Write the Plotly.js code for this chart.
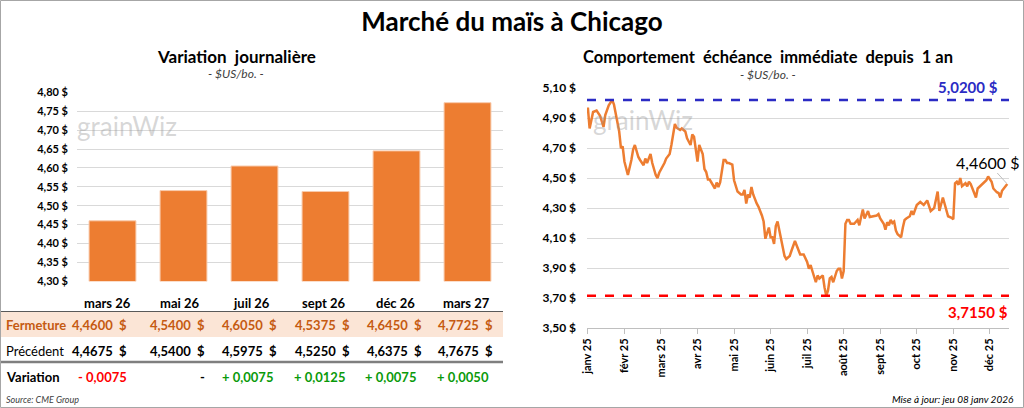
<!DOCTYPE html>
<html><head><meta charset="utf-8">
<script src="https://cdn.plot.ly/plotly-3.0.1.min.js"></script>
<style>html,body{margin:0;padding:0;background:#fff}#chart{width:1024px;height:408px}</style>
</head><body><div id="chart"></div>
<script>
// ---------- DATA ----------
const contracts = ['mars 26','mai 26','juil 26','sept 26','déc 26','mars 27'];
const closePrices = [4.4600, 4.5400, 4.6050, 4.5375, 4.6450, 4.7725];
const prevPrices  = [4.4675, 4.5400, 4.5975, 4.5250, 4.6375, 4.7675];

const monthLabels = ['janv 25','févr 25','mars 25','avr 25','mai 25','juin 25','juil 25','août 25','sept 25','oct 25','nov 25','déc 25'];
const monthStartSession = [0,21,42,63,84,105,126,147,168,189,210,231];

const sessions = [0,1,3,5,7,9,10,12,14,15,16,18,19,20,21,23,25,26,27,29,30,32,33,34,36,37,39,40,41,43,44,45,47,48,49,50,51,53,54,56,57,59,60,61,
63,64,66,67,68,69,70,71,73,74,75,76,77,78,79,80,81,83,84,85,86,88,89,90,91,92,93,94,95,97,98,100,101,102,104,105,106,107,108,109,110,111,112,113,114,116,117,118,119,120,121,122,
124,126,127,128,129,131,132,133,134,135,136,137,138,139,140,141,143,144,145,146,147,148,149,150,151,153,155,156,157,158,159,160,161,162,164,166,167,168,170,171,172,173,174,175,176,177,178,180,181,182,183,
185,186,187,189,191,193,195,197,199,201,202,204,206,207,209,210,211,212,213,214,215,217,218,219,220,222,223,224,226,227,229,230,232,233,235,236,237,238,240,241];
const nearbyPrices = [4.97,4.83,4.94,4.95,4.915,4.84,4.92,4.985,5.02,4.99,4.93,4.81,4.70,4.71,4.61,4.52,4.62,4.69,4.72,4.64,4.62,4.585,4.63,4.60,4.66,4.60,4.52,4.50,4.535,4.575,4.60,4.63,4.66,4.72,4.80,4.86,4.835,4.82,4.83,4.81,4.765,4.72,4.79,4.775,
4.61,4.72,4.66,4.56,4.54,4.49,4.49,4.47,4.43,4.47,4.44,4.47,4.54,4.62,4.62,4.60,4.60,4.59,4.485,4.44,4.41,4.39,4.39,4.42,4.33,4.39,4.37,4.44,4.39,4.33,4.31,4.25,4.21,4.095,4.17,4.105,4.105,4.06,4.18,4.21,4.15,4.08,4.015,3.98,3.96,3.98,4.015,4.05,4.08,4.05,4.02,3.99,
3.99,3.94,3.895,3.92,3.88,3.805,3.85,3.83,3.84,3.85,3.77,3.715,3.75,3.83,3.84,3.805,3.88,3.895,3.895,3.83,3.88,4.195,4.22,4.22,4.195,4.195,4.22,4.185,4.24,4.29,4.23,4.26,4.28,4.24,4.245,4.25,4.26,4.23,4.195,4.155,4.205,4.185,4.22,4.20,4.21,4.15,4.125,4.105,4.17,4.22,4.23,
4.245,4.28,4.255,4.32,4.34,4.32,4.35,4.28,4.30,4.41,4.28,4.37,4.28,4.245,4.235,4.225,4.465,4.475,4.455,4.50,4.445,4.465,4.445,4.475,4.46,4.405,4.37,4.43,4.45,4.465,4.485,4.51,4.475,4.43,4.405,4.40,4.37,4.415,4.45,4.46];

const high52 = 5.0200;
const low52 = 3.7150;

// ---------- HELPERS ----------
const W = 1024, H = 408;
const px = x => x / W;
const py = y => 1 - y / H;
const FONT = 'Lato, "Open Sans", sans-serif';
const NB = '\u00a0';
const fmt4 = v => v.toFixed(4).replace('.', ',');

const ORANGE = '#ed7d31';
const BROWN = '#c55a11';

// ---------- TRACES ----------
const traces = [
  {
    type: 'bar', x: contracts, y: closePrices, xaxis: 'x', yaxis: 'y',
    marker: {color: ORANGE, line: {color: '#f8cbad', width: 1}},
    hoverinfo: 'x+y', showlegend: false
  },
  {
    type: 'scatter', mode: 'lines', x: sessions, y: nearbyPrices, xaxis: 'x2', yaxis: 'y2',
    line: {color: ORANGE, width: 2.5}, showlegend: false
  }
];

// ---------- ANNOTATIONS ----------
const ann = [];
function txt(text, x, y, opts) {
  ann.push(Object.assign({text, x: px(x), y: py(y), xref: 'paper', yref: 'paper',
    showarrow: false, xanchor: 'center', yanchor: 'middle',
    font: {family: FONT, size: 13, color: '#000'}}, opts || {}));
}
// subtitles
txt('Variation  journalière', 236, 57, {font: {family: FONT, size: 17, color: '#000', weight: 'bold'}});
txt('<i>- $US/bo. -</i>', 236, 73, {font: {family: FONT, size: 12, color: '#404040'}});
txt('Comportement  échéance  immédiate  depuis  1 an', 768, 57, {font: {family: FONT, size: 16.5, color: '#000', weight: 'bold'}});
txt('<i>- $US/bo. -</i>', 768, 74, {font: {family: FONT, size: 12, color: '#404040'}});

// watermarks
txt('grainWiz', 127, 126, {font: {family: FONT, size: 26, color: 'rgba(150,150,150,0.38)'}});
txt('grainWiz', 643, 120, {font: {family: FONT, size: 26, color: 'rgba(150,150,150,0.38)'}});

// table
const colCenter = [107, 179, 251, 323, 395, 466];
const colRight  = [129, 207, 279, 352, 424, 495];
const varRight  = [129, 207, 275, 347, 418, 491];
contracts.forEach((c, i) => {
  txt(c, colCenter[i], 303, {font: {family: FONT, size: 13, color: '#000', weight: 'bold'}});
  txt(fmt4(closePrices[i]) + NB + NB + '$', colRight[i], 325, {xanchor: 'right', font: {family: FONT, size: 13, color: BROWN, weight: 'bold'}});
  txt(fmt4(prevPrices[i]) + NB + NB + '$', colRight[i], 351, {xanchor: 'right', font: {family: FONT, size: 13, color: '#000', weight: 'bold'}});
  const d = Math.round((closePrices[i] - prevPrices[i]) * 10000) / 10000;
  let t, col;
  if (d === 0) { t = '-'; col = '#000'; }
  else if (d < 0) { t = '-' + NB + fmt4(-d); col = '#ff0000'; }
  else { t = '+' + NB + fmt4(d); col = '#0a9a0a'; }
  txt(t, varRight[i], 377, {xanchor: 'right', font: {family: FONT, size: 13, color: col, weight: 'bold'}});
});
txt('Fermeture', 4, 325, {xanchor: 'left', font: {family: FONT, size: 13, color: BROWN, weight: 'bold'}});
txt('Précédent', 4, 351, {xanchor: 'left', font: {family: FONT, size: 13, color: '#000'}});
txt('Variation', 4, 377, {xanchor: 'left', font: {family: FONT, size: 13, color: '#000', weight: 'bold'}});
txt('<i>Source: CME Group</i>', 4, 399, {xanchor: 'left', font: {family: FONT, size: 9, color: '#404040'}});
txt('<i>Mise à jour: jeu 08 janv 2026</i>', 1016, 399, {xanchor: 'right', font: {family: FONT, size: 10, color: '#000'}});

// right chart labels
ann.push({text: fmt4(high52) + ' $', xref: 'paper', x: px(1000), yref: 'y2', y: high52, yshift: 2,
  xanchor: 'right', yanchor: 'bottom', showarrow: false,
  font: {family: FONT, size: 15, color: '#2b2bc4', weight: 'bold'}});
ann.push({text: fmt4(low52) + ' $', xref: 'paper', x: px(1010), yref: 'y2', y: low52, yshift: -5,
  xanchor: 'right', yanchor: 'top', showarrow: false,
  font: {family: FONT, size: 15, color: '#ff0000', weight: 'bold'}});
const lastS = sessions[sessions.length - 1], lastP = nearbyPrices[nearbyPrices.length - 1];
ann.push({text: fmt4(lastP) + ' $', xref: 'x2', x: lastS, yref: 'y2', y: lastP,
  showarrow: true, arrowhead: 0, arrowwidth: 1, arrowcolor: '#bfbfbf', ax: -20, ay: -22, standoff: 1,
  font: {family: FONT, size: 16, color: '#000'}});

// ---------- SHAPES ----------
const shapes = [
  {type: 'rect', xref: 'paper', yref: 'paper', x0: 0, x1: px(503), y0: py(337), y1: py(312), fillcolor: '#fbe5d6', line: {width: 0}, layer: 'below'},
  {type: 'line', xref: 'paper', yref: 'paper', x0: 0, x1: px(503), y0: py(311.5), y1: py(311.5), line: {color: '#595959', width: 1}},
  {type: 'line', xref: 'paper', yref: 'paper', x0: 0, x1: px(503), y0: py(362), y1: py(362), line: {color: '#7f7f7f', width: 2.5}},
  {type: 'line', xref: 'x2 domain', yref: 'y2', x0: 0, x1: 1, y0: high52, y1: high52, line: {color: '#2b2bc4', width: 2.5, dash: 'dash'}},
  {type: 'line', xref: 'x2 domain', yref: 'y2', x0: 0, x1: 1, y0: low52, y1: low52, line: {color: '#ff0000', width: 2.5, dash: 'dash'}},
  {type: 'rect', xref: 'paper', yref: 'paper', x0: px(0.5), x1: px(W - 0.5), y0: py(H - 0.5), y1: py(0.5), line: {color: '#a6a6a6', width: 1}}
];

// ---------- LAYOUT ----------
const layout = {
  width: W, height: H, autosize: false,
  margin: {l: 0, r: 0, t: 0, b: 0},
  paper_bgcolor: '#fff', plot_bgcolor: 'rgba(0,0,0,0)',
  separators: ', ',
  font: {family: FONT, color: '#000'},
  title: {text: 'Marché du maïs à Chicago', x: 0.5, xanchor: 'center', y: py(22), yanchor: 'middle', yref: 'container',
    font: {family: FONT, size: 26, color: '#000', weight: 'bold'}},
  bargap: 0.34,
  xaxis: {domain: [px(77), px(503)], anchor: 'y', type: 'category', range: [-0.5, 5.5],
    showticklabels: false, showgrid: false, zeroline: false, showline: false, fixedrange: true},
  yaxis: {domain: [py(281.3), py(92.3)], anchor: 'x', range: [4.30, 4.80], tick0: 4.30, dtick: 0.05,
    tickformat: '.2f', ticksuffix: ' $', gridcolor: '#d9d9d9', gridwidth: 1, zeroline: false,
    ticklabelstandoff: 8, tickfont: {family: FONT, size: 11, color: '#000', weight: 'bold'}},
  xaxis2: {domain: [px(587), px(1009)], anchor: 'y2', range: [-0.5, 242],
    tickmode: 'array', tickvals: monthStartSession, ticktext: monthLabels, tickangle: -90,
    ticks: 'outside', ticklen: 5, tickcolor: '#bfbfbf', showline: true, linecolor: '#bfbfbf', linewidth: 1,
    showgrid: false, zeroline: false, tickfont: {family: FONT, size: 11, color: '#000', weight: 'bold'}},
  yaxis2: {domain: [py(328), py(88)], anchor: 'x2', range: [3.50, 5.10], tick0: 3.50, dtick: 0.2,
    tickformat: '.2f', ticksuffix: ' $', gridcolor: '#d9d9d9', gridwidth: 1, zeroline: false,
    ticklabelstandoff: 10, tickfont: {family: FONT, size: 12, color: '#000', weight: 'bold'}},
  annotations: ann,
  shapes: shapes
};

Plotly.newPlot('chart', traces, layout, {displayModeBar: false, staticPlot: true});
</script></body></html>
